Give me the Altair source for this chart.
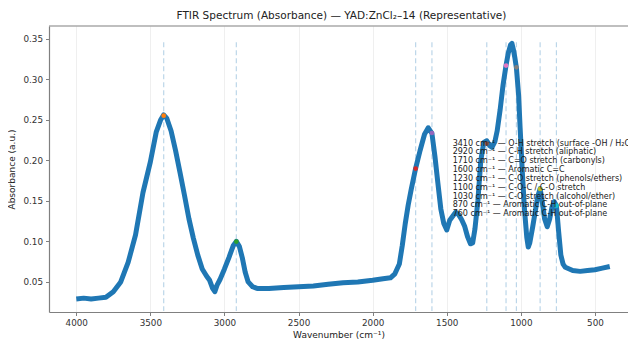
import altair as alt
import pandas as pd

# ---- spectrum values ----
wavenumber = [4000, 3950, 3900, 3850, 3800, 3750, 3700, 3650, 3600, 3550, 3500, 3460, 3430, 3410,
              3390, 3360, 3330, 3300, 3270, 3240, 3210, 3180, 3150, 3120, 3100, 3080, 3065, 3050,
              3030, 3000, 2970, 2940, 2920, 2900, 2880, 2860, 2840, 2810, 2780, 2700, 2600, 2500,
              2400, 2300, 2200, 2100, 2000, 1930, 1880, 1850, 1820, 1800, 1780, 1760, 1740, 1710,
              1680, 1650, 1625, 1600, 1580, 1560, 1540, 1520, 1500, 1480, 1460, 1440, 1420, 1400,
              1380, 1360, 1340, 1325, 1310, 1290, 1270, 1250, 1230, 1210, 1195, 1175, 1160, 1140,
              1120, 1100, 1085, 1070, 1060, 1050, 1040, 1030, 1015, 1005, 990, 975, 960, 950, 940,
              920, 900, 885, 870, 855, 840, 822, 805, 790, 775, 760, 745, 730, 715, 700, 650, 600,
              550, 500, 450, 400]
absorbance = [0.029, 0.030, 0.029, 0.030, 0.031, 0.038, 0.050, 0.074, 0.108, 0.160, 0.198, 0.235,
              0.250, 0.256, 0.252, 0.236, 0.212, 0.185, 0.157, 0.128, 0.104, 0.083, 0.066, 0.057,
              0.052, 0.042, 0.038, 0.046, 0.053, 0.066, 0.080, 0.095, 0.100, 0.094, 0.080, 0.062,
              0.050, 0.044, 0.042, 0.042, 0.043, 0.044, 0.045, 0.047, 0.049, 0.050, 0.052, 0.054,
              0.055, 0.060, 0.072, 0.095, 0.122, 0.145, 0.164, 0.190, 0.212, 0.232, 0.240, 0.233,
              0.205, 0.172, 0.140, 0.122, 0.114, 0.126, 0.131, 0.136, 0.133, 0.127, 0.119, 0.106,
              0.097, 0.098, 0.115, 0.150, 0.200, 0.222, 0.224, 0.218, 0.216, 0.223, 0.236, 0.262,
              0.293, 0.317, 0.332, 0.342, 0.344, 0.336, 0.326, 0.314, 0.280, 0.240, 0.185, 0.138,
              0.105, 0.093, 0.098, 0.118, 0.140, 0.156, 0.165, 0.148, 0.128, 0.118, 0.128, 0.142,
              0.149, 0.144, 0.112, 0.083, 0.072, 0.068, 0.064, 0.063, 0.064, 0.065, 0.067, 0.069]

# ---- band assignments ----
band_wn = [3410, 2920, 1710, 1600, 1230, 1100, 1030, 870, 760]
band_abs = [0.255, 0.0997, 0.1897, 0.2336, 0.2205, 0.3167, 0.3146, 0.1646, 0.144]
band_text = [
    "3410 cm⁻¹ — O-H stretch (surface -OH / H₂O)",
    "2920 cm⁻¹ — C-H stretch (aliphatic)",
    "1710 cm⁻¹ — C=O stretch (carbonyls)",
    "1600 cm⁻¹ — Aromatic C=C",
    "1230 cm⁻¹ — C-O stretch (phenols/ethers)",
    "1100 cm⁻¹ — C-O-C / C-O stretch",
    "1030 cm⁻¹ — C-O stretch (alcohol/ether)",
    "870 cm⁻¹ — Aromatic C-H out-of-plane",
    "760 cm⁻¹ — Aromatic C-H out-of-plane",
]
band_colors = ["#ff7f0e", "#2ca02c", "#d62728", "#9467bd", "#8c564b",
               "#e377c2", "#7f7f7f", "#bcbd22", "#17becf"]

x_ticks = [4000, 3500, 3000, 2500, 2000, 1500, 1000, 500]
y_ticks = [0.05, 0.10, 0.15, 0.20, 0.25, 0.30, 0.35]

spec = pd.DataFrame({"wavenumber": wavenumber, "absorbance": absorbance})
bands = pd.DataFrame({"wavenumber": band_wn, "absorbance": band_abs, "label": band_text})

W, H = 579, 286
X_TITLE = "Wavenumber (cm⁻¹)"
Y_TITLE = "Absorbance (a.u.)"
x_scale = alt.Scale(domain=[277, 4184], reverse=True, nice=False, zero=False)
y_scale = alt.Scale(domain=[0.0129, 0.3655], nice=False, zero=False)
x_axis = alt.Axis(values=x_ticks, format="d", labelPadding=2.5,
                  titleY=25, titleBaseline="alphabetic")
y_axis = alt.Axis(values=y_ticks, format=".2f", titlePadding=6)


def xq(field="wavenumber"):
    return alt.X(f"{field}:Q", scale=x_scale, axis=x_axis, title=X_TITLE)


def yq(field="absorbance"):
    return alt.Y(f"{field}:Q", scale=y_scale, axis=y_axis, title=Y_TITLE)


line = alt.Chart(spec).mark_line(color="#1f77b4", strokeWidth=5, strokeJoin="round").encode(
    x=xq(), y=yq()
)

rules = alt.Chart(bands).mark_rule(color="#bcd6e9", strokeDash=[5, 3], strokeWidth=1.2).encode(
    x=xq(),
    y=alt.YDatum(0.3454, scale=y_scale, axis=y_axis, title=Y_TITLE),
    y2=alt.datum(0.0142),
)

points = alt.Chart(bands).mark_point(filled=True, size=22, opacity=1).encode(
    x=xq(), y=yq(),
    color=alt.Color("label:N", scale=alt.Scale(domain=band_text, range=band_colors), legend=None),
)

notes = alt.Chart(pd.DataFrame({"k": [0]})).mark_text(
    text=band_text, align="left", baseline="top", fontSize=8, lineHeight=8.85,
    font="DejaVu Sans", color="#1a1a1a",
).encode(
    x=alt.XDatum(1460, scale=x_scale, axis=x_axis, title=X_TITLE),
    y=alt.YDatum(0.2255, scale=y_scale, axis=y_axis, title=Y_TITLE),
)

top_frame = alt.Chart(pd.DataFrame({"k": [0]})).mark_rule(color="#808080", strokeWidth=1.2).encode(
    x=alt.value(0), x2=alt.value(W), y=alt.value(0)
)

chart = alt.layer(rules, line, points, notes, top_frame).properties(
    width=W, height=H,
    autosize="none",
    padding={"left": 41, "top": 18, "right": 0, "bottom": 27},
    title=alt.TitleParams(
        "FTIR Spectrum (Absorbance) — YAD:ZnCl₂–14 (Representative)",
        font="DejaVu Sans", fontSize=10.5, fontWeight="normal", color="#222222",
        anchor="middle", dx=3, offset=4,
    ),
).configure_view(stroke=None).configure_axis(
    labelFont="DejaVu Sans", labelFontSize=8.8, labelColor="#333333",
    titleFont="DejaVu Sans", titleFontSize=9, titleFontWeight="normal", titleColor="#222222",
    domainColor="#808080", domainWidth=1.2, tickColor="#808080", tickSize=3.5, tickWidth=1,
    gridColor="#ebebeb", gridWidth=0.8, labelPadding=3,
)

chart.save("out.html", embed_options={"renderer": "svg", "actions": False})
